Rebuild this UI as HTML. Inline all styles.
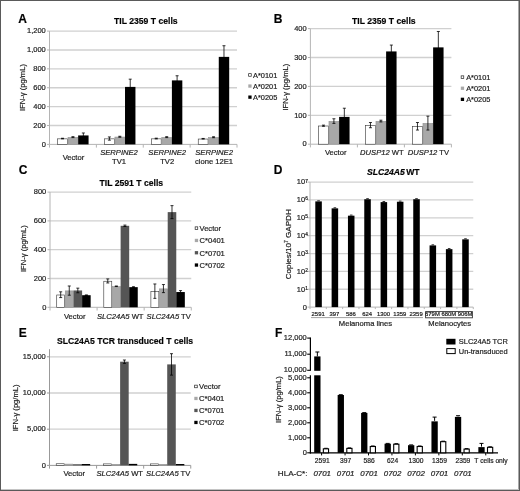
<!DOCTYPE html>
<html><head><meta charset="utf-8"><style>
html,body{margin:0;padding:0;background:#fff;}
#w{position:relative;width:520px;height:491px;overflow:hidden;background:#fff;}
svg{position:absolute;left:0;top:0;will-change:transform;}
text{font-family:"Liberation Sans", sans-serif;stroke:#1e1e1e;stroke-width:0.2px;}
</style></head><body><div id="w">
<svg width="520" height="491" viewBox="0 0 520 491">
<rect x="0" y="0" width="520" height="491" fill="#fff"/>
<text x="18.30" y="23.00" font-size="12" text-anchor="start" fill="#000" font-weight="bold">A</text>
<text x="114.00" y="23.60" font-size="8.65" text-anchor="start" fill="#000" font-weight="bold">TIL 2359 T cells</text>
<line x1="49.50" y1="125.52" x2="237.00" y2="125.52" stroke="#d0d0d0" stroke-width="1.3"/>
<line x1="49.50" y1="106.63" x2="237.00" y2="106.63" stroke="#d0d0d0" stroke-width="1.3"/>
<line x1="49.50" y1="87.75" x2="237.00" y2="87.75" stroke="#d0d0d0" stroke-width="1.3"/>
<line x1="49.50" y1="68.87" x2="237.00" y2="68.87" stroke="#d0d0d0" stroke-width="1.3"/>
<line x1="49.50" y1="49.98" x2="237.00" y2="49.98" stroke="#d0d0d0" stroke-width="1.3"/>
<line x1="49.50" y1="31.10" x2="237.00" y2="31.10" stroke="#d0d0d0" stroke-width="1.3"/>
<line x1="49.50" y1="31.10" x2="49.50" y2="144.40" stroke="#b4b4b4" stroke-width="1"/>
<line x1="49.50" y1="144.40" x2="237.00" y2="144.40" stroke="#b4b4b4" stroke-width="1"/>
<line x1="47.00" y1="144.40" x2="49.50" y2="144.40" stroke="#b4b4b4" stroke-width="1"/>
<text x="45.80" y="146.65" font-size="7.5" text-anchor="end" fill="#1e1e1e">0</text>
<line x1="47.00" y1="125.52" x2="49.50" y2="125.52" stroke="#b4b4b4" stroke-width="1"/>
<text x="45.80" y="127.77" font-size="7.5" text-anchor="end" fill="#1e1e1e">200</text>
<line x1="47.00" y1="106.63" x2="49.50" y2="106.63" stroke="#b4b4b4" stroke-width="1"/>
<text x="45.80" y="108.88" font-size="7.5" text-anchor="end" fill="#1e1e1e">400</text>
<line x1="47.00" y1="87.75" x2="49.50" y2="87.75" stroke="#b4b4b4" stroke-width="1"/>
<text x="45.80" y="90.00" font-size="7.5" text-anchor="end" fill="#1e1e1e">600</text>
<line x1="47.00" y1="68.87" x2="49.50" y2="68.87" stroke="#b4b4b4" stroke-width="1"/>
<text x="45.80" y="71.12" font-size="7.5" text-anchor="end" fill="#1e1e1e">800</text>
<line x1="47.00" y1="49.98" x2="49.50" y2="49.98" stroke="#b4b4b4" stroke-width="1"/>
<text x="45.80" y="52.23" font-size="7.5" text-anchor="end" fill="#1e1e1e">1,000</text>
<line x1="47.00" y1="31.10" x2="49.50" y2="31.10" stroke="#b4b4b4" stroke-width="1"/>
<text x="45.80" y="33.35" font-size="7.5" text-anchor="end" fill="#1e1e1e">1,200</text>
<line x1="49.50" y1="144.40" x2="49.50" y2="147.60" stroke="#b4b4b4" stroke-width="1"/>
<line x1="96.38" y1="144.40" x2="96.38" y2="147.60" stroke="#b4b4b4" stroke-width="1"/>
<line x1="143.25" y1="144.40" x2="143.25" y2="147.60" stroke="#b4b4b4" stroke-width="1"/>
<line x1="190.12" y1="144.40" x2="190.12" y2="147.60" stroke="#b4b4b4" stroke-width="1"/>
<line x1="237.00" y1="144.40" x2="237.00" y2="147.60" stroke="#b4b4b4" stroke-width="1"/>
<rect x="57.61" y="138.85" width="9.82" height="5.55" fill="#fff" stroke="#333" stroke-width="0.6"/>
<line x1="62.52" y1="138.26" x2="62.52" y2="138.83" stroke="#000" stroke-width="0.8"/>
<line x1="61.02" y1="138.26" x2="64.02" y2="138.26" stroke="#000" stroke-width="0.8"/>
<line x1="61.02" y1="138.83" x2="64.02" y2="138.83" stroke="#000" stroke-width="0.8"/>
<rect x="68.03" y="137.43" width="9.82" height="6.97" fill="#a8a8a8" stroke="#909090" stroke-width="0.6"/>
<line x1="72.94" y1="136.66" x2="72.94" y2="137.60" stroke="#000" stroke-width="0.8"/>
<line x1="71.44" y1="136.66" x2="74.44" y2="136.66" stroke="#000" stroke-width="0.8"/>
<line x1="71.44" y1="137.60" x2="74.44" y2="137.60" stroke="#000" stroke-width="0.8"/>
<rect x="78.15" y="135.43" width="10.42" height="8.97" fill="#000"/>
<line x1="83.35" y1="132.98" x2="83.35" y2="137.89" stroke="#000" stroke-width="0.8"/>
<line x1="81.85" y1="132.98" x2="84.85" y2="132.98" stroke="#000" stroke-width="0.8"/>
<line x1="81.85" y1="137.89" x2="84.85" y2="137.89" stroke="#000" stroke-width="0.8"/>
<rect x="104.49" y="138.85" width="9.82" height="5.55" fill="#fff" stroke="#333" stroke-width="0.6"/>
<line x1="109.40" y1="136.94" x2="109.40" y2="140.15" stroke="#000" stroke-width="0.8"/>
<line x1="107.90" y1="136.94" x2="110.90" y2="136.94" stroke="#000" stroke-width="0.8"/>
<line x1="107.90" y1="140.15" x2="110.90" y2="140.15" stroke="#000" stroke-width="0.8"/>
<rect x="114.90" y="137.05" width="9.82" height="7.35" fill="#a8a8a8" stroke="#909090" stroke-width="0.6"/>
<line x1="119.81" y1="136.28" x2="119.81" y2="137.22" stroke="#000" stroke-width="0.8"/>
<line x1="118.31" y1="136.28" x2="121.31" y2="136.28" stroke="#000" stroke-width="0.8"/>
<line x1="118.31" y1="137.22" x2="121.31" y2="137.22" stroke="#000" stroke-width="0.8"/>
<rect x="125.02" y="86.90" width="10.42" height="57.50" fill="#000"/>
<line x1="130.23" y1="79.16" x2="130.23" y2="94.64" stroke="#000" stroke-width="0.8"/>
<line x1="128.73" y1="79.16" x2="131.73" y2="79.16" stroke="#000" stroke-width="0.8"/>
<line x1="128.73" y1="94.64" x2="131.73" y2="94.64" stroke="#000" stroke-width="0.8"/>
<rect x="151.36" y="138.85" width="9.82" height="5.55" fill="#fff" stroke="#333" stroke-width="0.6"/>
<line x1="156.27" y1="138.17" x2="156.27" y2="138.92" stroke="#000" stroke-width="0.8"/>
<line x1="154.77" y1="138.17" x2="157.77" y2="138.17" stroke="#000" stroke-width="0.8"/>
<line x1="154.77" y1="138.92" x2="157.77" y2="138.92" stroke="#000" stroke-width="0.8"/>
<rect x="161.78" y="137.43" width="9.82" height="6.97" fill="#a8a8a8" stroke="#909090" stroke-width="0.6"/>
<line x1="166.69" y1="136.66" x2="166.69" y2="137.60" stroke="#000" stroke-width="0.8"/>
<line x1="165.19" y1="136.66" x2="168.19" y2="136.66" stroke="#000" stroke-width="0.8"/>
<line x1="165.19" y1="137.60" x2="168.19" y2="137.60" stroke="#000" stroke-width="0.8"/>
<rect x="171.90" y="80.39" width="10.42" height="64.01" fill="#000"/>
<line x1="177.10" y1="75.76" x2="177.10" y2="85.01" stroke="#000" stroke-width="0.8"/>
<line x1="175.60" y1="75.76" x2="178.60" y2="75.76" stroke="#000" stroke-width="0.8"/>
<line x1="175.60" y1="85.01" x2="178.60" y2="85.01" stroke="#000" stroke-width="0.8"/>
<rect x="198.24" y="139.04" width="9.82" height="5.37" fill="#fff" stroke="#333" stroke-width="0.6"/>
<line x1="203.15" y1="138.45" x2="203.15" y2="139.02" stroke="#000" stroke-width="0.8"/>
<line x1="201.65" y1="138.45" x2="204.65" y2="138.45" stroke="#000" stroke-width="0.8"/>
<line x1="201.65" y1="139.02" x2="204.65" y2="139.02" stroke="#000" stroke-width="0.8"/>
<rect x="208.65" y="137.52" width="9.82" height="6.88" fill="#a8a8a8" stroke="#909090" stroke-width="0.6"/>
<line x1="213.56" y1="136.75" x2="213.56" y2="137.70" stroke="#000" stroke-width="0.8"/>
<line x1="212.06" y1="136.75" x2="215.06" y2="136.75" stroke="#000" stroke-width="0.8"/>
<line x1="212.06" y1="137.70" x2="215.06" y2="137.70" stroke="#000" stroke-width="0.8"/>
<rect x="218.77" y="56.88" width="10.42" height="87.52" fill="#000"/>
<line x1="223.98" y1="45.73" x2="223.98" y2="68.02" stroke="#000" stroke-width="0.8"/>
<line x1="222.48" y1="45.73" x2="225.48" y2="45.73" stroke="#000" stroke-width="0.8"/>
<line x1="222.48" y1="68.02" x2="225.48" y2="68.02" stroke="#000" stroke-width="0.8"/>
<text x="25.30" y="87.50" font-size="7.6" text-anchor="middle" fill="#1e1e1e" transform="rotate(-90 25.30 87.50)">IFN-&#947; (pg/mL)</text>
<text x="73.44" y="159.60" font-size="7.62" text-anchor="middle" fill="#1e1e1e">Vector</text>
<text x="119.01" y="155.00" font-size="7.62" text-anchor="middle" fill="#1e1e1e" font-style="italic">SERPINE2</text>
<text x="119.01" y="164.00" font-size="7.62" text-anchor="middle" fill="#1e1e1e">TV1</text>
<text x="167.19" y="155.00" font-size="7.62" text-anchor="middle" fill="#1e1e1e" font-style="italic">SERPINE2</text>
<text x="167.19" y="164.00" font-size="7.62" text-anchor="middle" fill="#1e1e1e">TV2</text>
<text x="214.06" y="155.00" font-size="7.62" text-anchor="middle" fill="#1e1e1e" font-style="italic">SERPINE2</text>
<text x="214.06" y="164.00" font-size="7.62" text-anchor="middle" fill="#1e1e1e">clone 12E1</text>
<rect x="248.65" y="73.65" width="2.60" height="2.60" fill="#fff" stroke="#222" stroke-width="0.7"/>
<text x="253.00" y="77.70" font-size="7.4" text-anchor="start" fill="#1e1e1e">A*0101</text>
<rect x="248.30" y="84.40" width="3.30" height="3.30" fill="#a8a8a8"/>
<text x="253.00" y="88.80" font-size="7.4" text-anchor="start" fill="#1e1e1e">A*0201</text>
<rect x="248.30" y="95.50" width="3.30" height="3.30" fill="#000"/>
<text x="253.00" y="99.90" font-size="7.4" text-anchor="start" fill="#1e1e1e">A*0205</text>
<text x="273.80" y="23.00" font-size="12" text-anchor="start" fill="#000" font-weight="bold">B</text>
<text x="352.00" y="23.60" font-size="8.65" text-anchor="start" fill="#000" font-weight="bold">TIL 2359 T cells</text>
<line x1="310.40" y1="115.30" x2="451.40" y2="115.30" stroke="#d0d0d0" stroke-width="1.3"/>
<line x1="310.40" y1="86.40" x2="451.40" y2="86.40" stroke="#d0d0d0" stroke-width="1.3"/>
<line x1="310.40" y1="57.50" x2="451.40" y2="57.50" stroke="#d0d0d0" stroke-width="1.3"/>
<line x1="310.40" y1="28.60" x2="451.40" y2="28.60" stroke="#d0d0d0" stroke-width="1.3"/>
<line x1="310.40" y1="28.60" x2="310.40" y2="144.20" stroke="#b4b4b4" stroke-width="1"/>
<line x1="310.40" y1="144.20" x2="451.40" y2="144.20" stroke="#b4b4b4" stroke-width="1"/>
<line x1="307.90" y1="144.20" x2="310.40" y2="144.20" stroke="#b4b4b4" stroke-width="1"/>
<text x="306.70" y="146.45" font-size="7.5" text-anchor="end" fill="#1e1e1e">0</text>
<line x1="307.90" y1="115.30" x2="310.40" y2="115.30" stroke="#b4b4b4" stroke-width="1"/>
<text x="306.70" y="117.55" font-size="7.5" text-anchor="end" fill="#1e1e1e">100</text>
<line x1="307.90" y1="86.40" x2="310.40" y2="86.40" stroke="#b4b4b4" stroke-width="1"/>
<text x="306.70" y="88.65" font-size="7.5" text-anchor="end" fill="#1e1e1e">200</text>
<line x1="307.90" y1="57.50" x2="310.40" y2="57.50" stroke="#b4b4b4" stroke-width="1"/>
<text x="306.70" y="59.75" font-size="7.5" text-anchor="end" fill="#1e1e1e">300</text>
<line x1="307.90" y1="28.60" x2="310.40" y2="28.60" stroke="#b4b4b4" stroke-width="1"/>
<text x="306.70" y="30.85" font-size="7.5" text-anchor="end" fill="#1e1e1e">400</text>
<line x1="310.40" y1="144.20" x2="310.40" y2="147.40" stroke="#b4b4b4" stroke-width="1"/>
<line x1="357.40" y1="144.20" x2="357.40" y2="147.40" stroke="#b4b4b4" stroke-width="1"/>
<line x1="404.40" y1="144.20" x2="404.40" y2="147.40" stroke="#b4b4b4" stroke-width="1"/>
<line x1="451.40" y1="144.20" x2="451.40" y2="147.40" stroke="#b4b4b4" stroke-width="1"/>
<rect x="318.53" y="126.00" width="9.84" height="18.20" fill="#fff" stroke="#333" stroke-width="0.6"/>
<line x1="323.46" y1="125.13" x2="323.46" y2="126.28" stroke="#000" stroke-width="0.8"/>
<line x1="321.96" y1="125.13" x2="324.96" y2="125.13" stroke="#000" stroke-width="0.8"/>
<line x1="321.96" y1="126.28" x2="324.96" y2="126.28" stroke="#000" stroke-width="0.8"/>
<rect x="328.98" y="121.38" width="9.84" height="22.82" fill="#a8a8a8" stroke="#909090" stroke-width="0.6"/>
<line x1="333.90" y1="118.77" x2="333.90" y2="123.39" stroke="#000" stroke-width="0.8"/>
<line x1="332.40" y1="118.77" x2="335.40" y2="118.77" stroke="#000" stroke-width="0.8"/>
<line x1="332.40" y1="123.39" x2="335.40" y2="123.39" stroke="#000" stroke-width="0.8"/>
<rect x="339.12" y="116.89" width="10.44" height="27.31" fill="#000"/>
<line x1="344.34" y1="108.22" x2="344.34" y2="125.56" stroke="#000" stroke-width="0.8"/>
<line x1="342.84" y1="108.22" x2="345.84" y2="108.22" stroke="#000" stroke-width="0.8"/>
<line x1="342.84" y1="125.56" x2="345.84" y2="125.56" stroke="#000" stroke-width="0.8"/>
<rect x="365.53" y="125.43" width="9.84" height="18.77" fill="#fff" stroke="#333" stroke-width="0.6"/>
<line x1="370.46" y1="122.52" x2="370.46" y2="127.73" stroke="#000" stroke-width="0.8"/>
<line x1="368.96" y1="122.52" x2="371.96" y2="122.52" stroke="#000" stroke-width="0.8"/>
<line x1="368.96" y1="127.73" x2="371.96" y2="127.73" stroke="#000" stroke-width="0.8"/>
<rect x="375.98" y="121.38" width="9.84" height="22.82" fill="#a8a8a8" stroke="#909090" stroke-width="0.6"/>
<line x1="380.90" y1="120.21" x2="380.90" y2="121.95" stroke="#000" stroke-width="0.8"/>
<line x1="379.40" y1="120.21" x2="382.40" y2="120.21" stroke="#000" stroke-width="0.8"/>
<line x1="379.40" y1="121.95" x2="382.40" y2="121.95" stroke="#000" stroke-width="0.8"/>
<rect x="386.12" y="51.43" width="10.44" height="92.77" fill="#000"/>
<line x1="391.34" y1="45.07" x2="391.34" y2="57.79" stroke="#000" stroke-width="0.8"/>
<line x1="389.84" y1="45.07" x2="392.84" y2="45.07" stroke="#000" stroke-width="0.8"/>
<line x1="389.84" y1="57.79" x2="392.84" y2="57.79" stroke="#000" stroke-width="0.8"/>
<rect x="412.53" y="126.58" width="9.84" height="17.62" fill="#fff" stroke="#333" stroke-width="0.6"/>
<line x1="417.46" y1="122.52" x2="417.46" y2="130.04" stroke="#000" stroke-width="0.8"/>
<line x1="415.96" y1="122.52" x2="418.96" y2="122.52" stroke="#000" stroke-width="0.8"/>
<line x1="415.96" y1="130.04" x2="418.96" y2="130.04" stroke="#000" stroke-width="0.8"/>
<rect x="422.98" y="123.40" width="9.84" height="20.80" fill="#a8a8a8" stroke="#909090" stroke-width="0.6"/>
<line x1="427.90" y1="116.17" x2="427.90" y2="130.04" stroke="#000" stroke-width="0.8"/>
<line x1="426.40" y1="116.17" x2="429.40" y2="116.17" stroke="#000" stroke-width="0.8"/>
<line x1="426.40" y1="130.04" x2="429.40" y2="130.04" stroke="#000" stroke-width="0.8"/>
<rect x="433.12" y="47.38" width="10.44" height="96.81" fill="#000"/>
<line x1="438.34" y1="31.49" x2="438.34" y2="63.28" stroke="#000" stroke-width="0.8"/>
<line x1="436.84" y1="31.49" x2="439.84" y2="31.49" stroke="#000" stroke-width="0.8"/>
<line x1="436.84" y1="63.28" x2="439.84" y2="63.28" stroke="#000" stroke-width="0.8"/>
<text x="288.00" y="87.20" font-size="7.6" text-anchor="middle" fill="#1e1e1e" transform="rotate(-90 288.00 87.20)">IFN-&#947; (pg/mL)</text>
<text x="335.70" y="154.60" font-size="7.62" text-anchor="middle" fill="#1e1e1e">Vector</text>
<text x="381.90" y="154.60" font-size="7.62" text-anchor="middle" fill="#1e1e1e"><tspan font-style="italic">DUSP12</tspan> WT</text>
<text x="428.40" y="154.60" font-size="7.62" text-anchor="middle" fill="#1e1e1e"><tspan font-style="italic">DUSP12</tspan> TV</text>
<rect x="461.15" y="75.85" width="2.60" height="2.60" fill="#fff" stroke="#222" stroke-width="0.7"/>
<text x="466.20" y="79.90" font-size="7.4" text-anchor="start" fill="#1e1e1e">A*0101</text>
<rect x="460.80" y="86.60" width="3.30" height="3.30" fill="#a8a8a8"/>
<text x="466.20" y="91.00" font-size="7.4" text-anchor="start" fill="#1e1e1e">A*0201</text>
<rect x="460.80" y="97.70" width="3.30" height="3.30" fill="#000"/>
<text x="466.20" y="102.10" font-size="7.4" text-anchor="start" fill="#1e1e1e">A*0205</text>
<text x="18.80" y="174.20" font-size="12" text-anchor="start" fill="#000" font-weight="bold">C</text>
<text x="99.50" y="185.60" font-size="8.65" text-anchor="start" fill="#000" font-weight="bold">TIL 2591 T cells</text>
<line x1="50.00" y1="278.50" x2="191.25" y2="278.50" stroke="#d0d0d0" stroke-width="1.3"/>
<line x1="50.00" y1="249.70" x2="191.25" y2="249.70" stroke="#d0d0d0" stroke-width="1.3"/>
<line x1="50.00" y1="220.90" x2="191.25" y2="220.90" stroke="#d0d0d0" stroke-width="1.3"/>
<line x1="50.00" y1="192.10" x2="191.25" y2="192.10" stroke="#d0d0d0" stroke-width="1.3"/>
<line x1="50.00" y1="192.10" x2="50.00" y2="307.30" stroke="#b4b4b4" stroke-width="1"/>
<line x1="50.00" y1="307.30" x2="191.25" y2="307.30" stroke="#b4b4b4" stroke-width="1"/>
<line x1="47.50" y1="307.30" x2="50.00" y2="307.30" stroke="#b4b4b4" stroke-width="1"/>
<text x="46.30" y="309.55" font-size="7.5" text-anchor="end" fill="#1e1e1e">0</text>
<line x1="47.50" y1="278.50" x2="50.00" y2="278.50" stroke="#b4b4b4" stroke-width="1"/>
<text x="46.30" y="280.75" font-size="7.5" text-anchor="end" fill="#1e1e1e">200</text>
<line x1="47.50" y1="249.70" x2="50.00" y2="249.70" stroke="#b4b4b4" stroke-width="1"/>
<text x="46.30" y="251.95" font-size="7.5" text-anchor="end" fill="#1e1e1e">400</text>
<line x1="47.50" y1="220.90" x2="50.00" y2="220.90" stroke="#b4b4b4" stroke-width="1"/>
<text x="46.30" y="223.15" font-size="7.5" text-anchor="end" fill="#1e1e1e">600</text>
<line x1="47.50" y1="192.10" x2="50.00" y2="192.10" stroke="#b4b4b4" stroke-width="1"/>
<text x="46.30" y="194.35" font-size="7.5" text-anchor="end" fill="#1e1e1e">800</text>
<line x1="50.00" y1="307.30" x2="50.00" y2="310.50" stroke="#b4b4b4" stroke-width="1"/>
<line x1="97.08" y1="307.30" x2="97.08" y2="310.50" stroke="#b4b4b4" stroke-width="1"/>
<line x1="144.17" y1="307.30" x2="144.17" y2="310.50" stroke="#b4b4b4" stroke-width="1"/>
<line x1="191.25" y1="307.30" x2="191.25" y2="310.50" stroke="#b4b4b4" stroke-width="1"/>
<rect x="56.72" y="295.00" width="7.96" height="12.30" fill="#fff" stroke="#333" stroke-width="0.6"/>
<line x1="60.70" y1="291.82" x2="60.70" y2="297.58" stroke="#000" stroke-width="0.8"/>
<line x1="59.20" y1="291.82" x2="62.20" y2="291.82" stroke="#000" stroke-width="0.8"/>
<line x1="59.20" y1="297.58" x2="62.20" y2="297.58" stroke="#000" stroke-width="0.8"/>
<rect x="65.28" y="290.90" width="7.96" height="16.40" fill="#a8a8a8" stroke="#909090" stroke-width="0.6"/>
<line x1="69.26" y1="285.99" x2="69.26" y2="295.20" stroke="#000" stroke-width="0.8"/>
<line x1="67.76" y1="285.99" x2="70.76" y2="285.99" stroke="#000" stroke-width="0.8"/>
<line x1="67.76" y1="295.20" x2="70.76" y2="295.20" stroke="#000" stroke-width="0.8"/>
<rect x="73.54" y="290.45" width="8.56" height="16.85" fill="#555555"/>
<line x1="77.82" y1="288.15" x2="77.82" y2="292.76" stroke="#000" stroke-width="0.8"/>
<line x1="76.32" y1="288.15" x2="79.32" y2="288.15" stroke="#000" stroke-width="0.8"/>
<line x1="76.32" y1="292.76" x2="79.32" y2="292.76" stroke="#000" stroke-width="0.8"/>
<rect x="82.10" y="295.20" width="8.56" height="12.10" fill="#000"/>
<line x1="86.38" y1="294.92" x2="86.38" y2="295.49" stroke="#000" stroke-width="0.8"/>
<line x1="84.88" y1="294.92" x2="87.88" y2="294.92" stroke="#000" stroke-width="0.8"/>
<line x1="84.88" y1="295.49" x2="87.88" y2="295.49" stroke="#000" stroke-width="0.8"/>
<rect x="103.80" y="281.25" width="7.96" height="26.05" fill="#fff" stroke="#333" stroke-width="0.6"/>
<line x1="107.78" y1="278.93" x2="107.78" y2="282.96" stroke="#000" stroke-width="0.8"/>
<line x1="106.28" y1="278.93" x2="109.28" y2="278.93" stroke="#000" stroke-width="0.8"/>
<line x1="106.28" y1="282.96" x2="109.28" y2="282.96" stroke="#000" stroke-width="0.8"/>
<rect x="112.36" y="286.58" width="7.96" height="20.72" fill="#a8a8a8" stroke="#909090" stroke-width="0.6"/>
<line x1="116.34" y1="285.99" x2="116.34" y2="286.56" stroke="#000" stroke-width="0.8"/>
<line x1="114.84" y1="285.99" x2="117.84" y2="285.99" stroke="#000" stroke-width="0.8"/>
<line x1="114.84" y1="286.56" x2="117.84" y2="286.56" stroke="#000" stroke-width="0.8"/>
<rect x="120.63" y="225.80" width="8.56" height="81.50" fill="#555555"/>
<line x1="124.91" y1="225.08" x2="124.91" y2="226.52" stroke="#000" stroke-width="0.8"/>
<line x1="123.41" y1="225.08" x2="126.41" y2="225.08" stroke="#000" stroke-width="0.8"/>
<line x1="123.41" y1="226.52" x2="126.41" y2="226.52" stroke="#000" stroke-width="0.8"/>
<rect x="129.19" y="287.14" width="8.56" height="20.16" fill="#000"/>
<line x1="133.47" y1="286.71" x2="133.47" y2="287.57" stroke="#000" stroke-width="0.8"/>
<line x1="131.97" y1="286.71" x2="134.97" y2="286.71" stroke="#000" stroke-width="0.8"/>
<line x1="131.97" y1="287.57" x2="134.97" y2="287.57" stroke="#000" stroke-width="0.8"/>
<rect x="150.89" y="291.47" width="7.96" height="15.83" fill="#fff" stroke="#333" stroke-width="0.6"/>
<line x1="154.87" y1="283.97" x2="154.87" y2="298.37" stroke="#000" stroke-width="0.8"/>
<line x1="153.37" y1="283.97" x2="156.37" y2="283.97" stroke="#000" stroke-width="0.8"/>
<line x1="153.37" y1="298.37" x2="156.37" y2="298.37" stroke="#000" stroke-width="0.8"/>
<rect x="159.45" y="288.88" width="7.96" height="18.42" fill="#a8a8a8" stroke="#909090" stroke-width="0.6"/>
<line x1="163.43" y1="284.55" x2="163.43" y2="292.61" stroke="#000" stroke-width="0.8"/>
<line x1="161.93" y1="284.55" x2="164.93" y2="284.55" stroke="#000" stroke-width="0.8"/>
<line x1="161.93" y1="292.61" x2="164.93" y2="292.61" stroke="#000" stroke-width="0.8"/>
<rect x="167.71" y="212.12" width="8.56" height="95.18" fill="#555555"/>
<line x1="171.99" y1="205.64" x2="171.99" y2="218.60" stroke="#000" stroke-width="0.8"/>
<line x1="170.49" y1="205.64" x2="173.49" y2="205.64" stroke="#000" stroke-width="0.8"/>
<line x1="170.49" y1="218.60" x2="173.49" y2="218.60" stroke="#000" stroke-width="0.8"/>
<rect x="176.27" y="292.04" width="8.56" height="15.26" fill="#000"/>
<line x1="180.55" y1="290.60" x2="180.55" y2="293.48" stroke="#000" stroke-width="0.8"/>
<line x1="179.05" y1="290.60" x2="182.05" y2="290.60" stroke="#000" stroke-width="0.8"/>
<line x1="179.05" y1="293.48" x2="182.05" y2="293.48" stroke="#000" stroke-width="0.8"/>
<text x="26.20" y="248.60" font-size="7.6" text-anchor="middle" fill="#1e1e1e" transform="rotate(-90 26.20 248.60)">IFN-&#947; (pg/mL)</text>
<text x="74.74" y="318.70" font-size="7.62" text-anchor="middle" fill="#1e1e1e">Vector</text>
<text x="120.22" y="318.70" font-size="7.62" text-anchor="middle" fill="#1e1e1e"><tspan font-style="italic">SLC24A5</tspan> WT</text>
<text x="168.71" y="318.70" font-size="7.62" text-anchor="middle" fill="#1e1e1e"><tspan font-style="italic">SLC24A5</tspan> TV</text>
<rect x="195.15" y="226.85" width="2.60" height="2.60" fill="#fff" stroke="#222" stroke-width="0.7"/>
<text x="199.50" y="230.90" font-size="7.6" text-anchor="start" fill="#1e1e1e">Vector</text>
<rect x="194.80" y="238.80" width="3.30" height="3.30" fill="#a8a8a8"/>
<text x="199.50" y="243.20" font-size="7.6" text-anchor="start" fill="#1e1e1e">C*0401</text>
<rect x="194.80" y="251.10" width="3.30" height="3.30" fill="#555555"/>
<text x="199.50" y="255.50" font-size="7.6" text-anchor="start" fill="#1e1e1e">C*0701</text>
<rect x="194.80" y="263.40" width="3.30" height="3.30" fill="#000"/>
<text x="199.50" y="267.80" font-size="7.6" text-anchor="start" fill="#1e1e1e">C*0702</text>
<text x="273.80" y="174.20" font-size="12" text-anchor="start" fill="#000" font-weight="bold">D</text>
<text x="367.00" y="175.00" font-size="8.65" text-anchor="start" fill="#000" font-weight="bold"><tspan font-style="italic">SLC24A5</tspan><tspan dx="1.3">WT</tspan></text>
<line x1="310.00" y1="289.24" x2="473.25" y2="289.24" stroke="#d0d0d0" stroke-width="1.3"/>
<line x1="310.00" y1="271.39" x2="473.25" y2="271.39" stroke="#d0d0d0" stroke-width="1.3"/>
<line x1="310.00" y1="253.53" x2="473.25" y2="253.53" stroke="#d0d0d0" stroke-width="1.3"/>
<line x1="310.00" y1="235.67" x2="473.25" y2="235.67" stroke="#d0d0d0" stroke-width="1.3"/>
<line x1="310.00" y1="217.81" x2="473.25" y2="217.81" stroke="#d0d0d0" stroke-width="1.3"/>
<line x1="310.00" y1="199.96" x2="473.25" y2="199.96" stroke="#d0d0d0" stroke-width="1.3"/>
<line x1="310.00" y1="182.10" x2="473.25" y2="182.10" stroke="#d0d0d0" stroke-width="1.3"/>
<line x1="310.00" y1="182.10" x2="310.00" y2="307.10" stroke="#b4b4b4" stroke-width="1"/>
<line x1="310.00" y1="307.10" x2="473.25" y2="307.10" stroke="#b4b4b4" stroke-width="1"/>
<line x1="307.50" y1="307.10" x2="310.00" y2="307.10" stroke="#b4b4b4" stroke-width="1"/>
<text x="307.00" y="309.60" font-size="7.5" text-anchor="end" fill="#1e1e1e">0</text>
<line x1="307.50" y1="289.24" x2="310.00" y2="289.24" stroke="#b4b4b4" stroke-width="1"/>
<text x="305.20" y="291.54" font-size="7.5" text-anchor="end" fill="#1e1e1e">10</text>
<text x="305.20" y="289.74" font-size="4.8" text-anchor="start" fill="#1e1e1e">1</text>
<line x1="307.50" y1="271.39" x2="310.00" y2="271.39" stroke="#b4b4b4" stroke-width="1"/>
<text x="305.20" y="273.69" font-size="7.5" text-anchor="end" fill="#1e1e1e">10</text>
<text x="305.20" y="271.89" font-size="4.8" text-anchor="start" fill="#1e1e1e">2</text>
<line x1="307.50" y1="253.53" x2="310.00" y2="253.53" stroke="#b4b4b4" stroke-width="1"/>
<text x="305.20" y="255.83" font-size="7.5" text-anchor="end" fill="#1e1e1e">10</text>
<text x="305.20" y="254.03" font-size="4.8" text-anchor="start" fill="#1e1e1e">3</text>
<line x1="307.50" y1="235.67" x2="310.00" y2="235.67" stroke="#b4b4b4" stroke-width="1"/>
<text x="305.20" y="237.97" font-size="7.5" text-anchor="end" fill="#1e1e1e">10</text>
<text x="305.20" y="236.17" font-size="4.8" text-anchor="start" fill="#1e1e1e">4</text>
<line x1="307.50" y1="217.81" x2="310.00" y2="217.81" stroke="#b4b4b4" stroke-width="1"/>
<text x="305.20" y="220.11" font-size="7.5" text-anchor="end" fill="#1e1e1e">10</text>
<text x="305.20" y="218.31" font-size="4.8" text-anchor="start" fill="#1e1e1e">5</text>
<line x1="307.50" y1="199.96" x2="310.00" y2="199.96" stroke="#b4b4b4" stroke-width="1"/>
<text x="305.20" y="202.26" font-size="7.5" text-anchor="end" fill="#1e1e1e">10</text>
<text x="305.20" y="200.46" font-size="4.8" text-anchor="start" fill="#1e1e1e">6</text>
<line x1="307.50" y1="182.10" x2="310.00" y2="182.10" stroke="#b4b4b4" stroke-width="1"/>
<text x="305.20" y="184.40" font-size="7.5" text-anchor="end" fill="#1e1e1e">10</text>
<text x="305.20" y="182.60" font-size="4.8" text-anchor="start" fill="#1e1e1e">7</text>
<rect x="315.30" y="201.39" width="6.53" height="105.71" fill="#000"/>
<line x1="317.26" y1="200.79" x2="319.86" y2="200.79" stroke="#000" stroke-width="0.8"/>
<rect x="331.62" y="208.35" width="6.53" height="98.75" fill="#000"/>
<line x1="333.59" y1="207.75" x2="336.19" y2="207.75" stroke="#000" stroke-width="0.8"/>
<rect x="347.95" y="215.67" width="6.53" height="91.43" fill="#000"/>
<line x1="349.91" y1="215.07" x2="352.51" y2="215.07" stroke="#000" stroke-width="0.8"/>
<rect x="364.27" y="199.24" width="6.53" height="107.86" fill="#000"/>
<line x1="366.24" y1="198.64" x2="368.84" y2="198.64" stroke="#000" stroke-width="0.8"/>
<rect x="380.60" y="202.10" width="6.53" height="105.00" fill="#000"/>
<line x1="382.56" y1="201.50" x2="385.16" y2="201.50" stroke="#000" stroke-width="0.8"/>
<rect x="396.92" y="201.74" width="6.53" height="105.36" fill="#000"/>
<line x1="398.89" y1="201.14" x2="401.49" y2="201.14" stroke="#000" stroke-width="0.8"/>
<rect x="413.25" y="199.24" width="6.53" height="107.86" fill="#000"/>
<line x1="415.21" y1="198.64" x2="417.81" y2="198.64" stroke="#000" stroke-width="0.8"/>
<rect x="429.57" y="245.40" width="6.53" height="61.70" fill="#000"/>
<line x1="431.54" y1="244.80" x2="434.14" y2="244.80" stroke="#000" stroke-width="0.8"/>
<rect x="445.90" y="249.15" width="6.53" height="57.95" fill="#000"/>
<line x1="447.86" y1="248.55" x2="450.46" y2="248.55" stroke="#000" stroke-width="0.8"/>
<rect x="462.22" y="239.33" width="6.53" height="67.77" fill="#000"/>
<line x1="464.19" y1="238.73" x2="466.79" y2="238.73" stroke="#000" stroke-width="0.8"/>
<line x1="310.00" y1="307.10" x2="310.00" y2="309.10" stroke="#b4b4b4" stroke-width="1"/>
<line x1="326.32" y1="307.10" x2="326.32" y2="309.10" stroke="#b4b4b4" stroke-width="1"/>
<line x1="342.65" y1="307.10" x2="342.65" y2="309.10" stroke="#b4b4b4" stroke-width="1"/>
<line x1="358.98" y1="307.10" x2="358.98" y2="309.10" stroke="#b4b4b4" stroke-width="1"/>
<line x1="375.30" y1="307.10" x2="375.30" y2="309.10" stroke="#b4b4b4" stroke-width="1"/>
<line x1="391.62" y1="307.10" x2="391.62" y2="309.10" stroke="#b4b4b4" stroke-width="1"/>
<line x1="407.95" y1="307.10" x2="407.95" y2="309.10" stroke="#b4b4b4" stroke-width="1"/>
<line x1="424.27" y1="307.10" x2="424.27" y2="309.10" stroke="#b4b4b4" stroke-width="1"/>
<line x1="440.60" y1="307.10" x2="440.60" y2="309.10" stroke="#b4b4b4" stroke-width="1"/>
<line x1="456.92" y1="307.10" x2="456.92" y2="309.10" stroke="#b4b4b4" stroke-width="1"/>
<line x1="473.25" y1="307.10" x2="473.25" y2="309.10" stroke="#b4b4b4" stroke-width="1"/>
<text x="318.16" y="316.00" font-size="5.9" text-anchor="middle" fill="#1a1a1a">2591</text>
<text x="334.49" y="316.00" font-size="5.9" text-anchor="middle" fill="#1a1a1a">397</text>
<text x="350.81" y="316.00" font-size="5.9" text-anchor="middle" fill="#1a1a1a">586</text>
<text x="367.14" y="316.00" font-size="5.9" text-anchor="middle" fill="#1a1a1a">624</text>
<text x="383.46" y="316.00" font-size="5.9" text-anchor="middle" fill="#1a1a1a">1300</text>
<text x="399.79" y="316.00" font-size="5.9" text-anchor="middle" fill="#1a1a1a">1359</text>
<text x="416.11" y="316.00" font-size="5.9" text-anchor="middle" fill="#1a1a1a">2359</text>
<text x="432.44" y="316.00" font-size="5.9" text-anchor="middle" fill="#1a1a1a">679M</text>
<text x="448.76" y="316.00" font-size="5.9" text-anchor="middle" fill="#1a1a1a">680M</text>
<text x="465.09" y="316.00" font-size="5.9" text-anchor="middle" fill="#1a1a1a">906M</text>
<line x1="311.00" y1="317.60" x2="423.00" y2="317.60" stroke="#888" stroke-width="0.8"/>
<rect x="425.60" y="311.60" width="46.80" height="6.20" fill="none" stroke="#333" stroke-width="0.9"/>
<text x="365.50" y="325.90" font-size="7.62" text-anchor="middle" fill="#1e1e1e">Melanoma lines</text>
<text x="449.70" y="325.90" font-size="7.62" text-anchor="middle" fill="#1e1e1e">Melanocytes</text>
<text x="291.00" y="244.30" font-size="8.05" text-anchor="middle" fill="#1e1e1e" transform="rotate(-90 291.00 244.30)">Copies/10<tspan font-size="5.2" dy="-2.9">7</tspan><tspan dy="2.9"> GAPDH</tspan></text>
<text x="18.80" y="337.00" font-size="12" text-anchor="start" fill="#000" font-weight="bold">E</text>
<text x="57.00" y="344.00" font-size="8.65" text-anchor="start" fill="#000" font-weight="bold">SLC24A5 TCR transduced T cells</text>
<line x1="49.50" y1="429.20" x2="190.75" y2="429.20" stroke="#d0d0d0" stroke-width="1.3"/>
<line x1="49.50" y1="393.00" x2="190.75" y2="393.00" stroke="#d0d0d0" stroke-width="1.3"/>
<line x1="49.50" y1="356.80" x2="190.75" y2="356.80" stroke="#d0d0d0" stroke-width="1.3"/>
<line x1="49.50" y1="349.20" x2="49.50" y2="465.40" stroke="#999" stroke-width="1"/>
<line x1="49.50" y1="465.40" x2="190.75" y2="465.40" stroke="#999" stroke-width="1"/>
<line x1="47.00" y1="465.40" x2="49.50" y2="465.40" stroke="#999" stroke-width="1"/>
<text x="45.80" y="467.65" font-size="7.5" text-anchor="end" fill="#1e1e1e">0</text>
<line x1="47.00" y1="429.20" x2="49.50" y2="429.20" stroke="#999" stroke-width="1"/>
<text x="45.80" y="431.45" font-size="7.5" text-anchor="end" fill="#1e1e1e">5,000</text>
<line x1="47.00" y1="393.00" x2="49.50" y2="393.00" stroke="#999" stroke-width="1"/>
<text x="45.80" y="395.25" font-size="7.5" text-anchor="end" fill="#1e1e1e">10,000</text>
<line x1="47.00" y1="356.80" x2="49.50" y2="356.80" stroke="#999" stroke-width="1"/>
<text x="45.80" y="359.05" font-size="7.5" text-anchor="end" fill="#1e1e1e">15,000</text>
<line x1="49.50" y1="465.40" x2="49.50" y2="468.60" stroke="#999" stroke-width="1"/>
<line x1="96.58" y1="465.40" x2="96.58" y2="468.60" stroke="#999" stroke-width="1"/>
<line x1="143.67" y1="465.40" x2="143.67" y2="468.60" stroke="#999" stroke-width="1"/>
<line x1="190.75" y1="465.40" x2="190.75" y2="468.60" stroke="#999" stroke-width="1"/>
<rect x="56.22" y="463.75" width="7.96" height="1.65" fill="#fff" stroke="#333" stroke-width="0.6"/>
<rect x="64.78" y="464.11" width="7.96" height="1.29" fill="#a8a8a8" stroke="#909090" stroke-width="0.6"/>
<rect x="73.04" y="464.24" width="8.56" height="1.16" fill="#555555"/>
<rect x="81.60" y="464.02" width="8.56" height="1.38" fill="#000"/>
<rect x="103.30" y="463.89" width="7.96" height="1.51" fill="#fff" stroke="#333" stroke-width="0.6"/>
<rect x="111.86" y="464.32" width="7.96" height="1.08" fill="#a8a8a8" stroke="#909090" stroke-width="0.6"/>
<rect x="120.13" y="361.70" width="8.56" height="103.70" fill="#555555"/>
<line x1="124.41" y1="360.00" x2="124.41" y2="363.40" stroke="#000" stroke-width="0.8"/>
<line x1="122.91" y1="360.00" x2="125.91" y2="360.00" stroke="#000" stroke-width="0.8"/>
<line x1="122.91" y1="363.40" x2="125.91" y2="363.40" stroke="#000" stroke-width="0.8"/>
<rect x="128.69" y="463.88" width="8.56" height="1.52" fill="#000"/>
<rect x="150.39" y="463.89" width="7.96" height="1.51" fill="#fff" stroke="#333" stroke-width="0.6"/>
<rect x="158.95" y="464.32" width="7.96" height="1.08" fill="#a8a8a8" stroke="#909090" stroke-width="0.6"/>
<rect x="167.21" y="364.40" width="8.56" height="101.00" fill="#555555"/>
<line x1="171.49" y1="353.69" x2="171.49" y2="375.12" stroke="#000" stroke-width="0.8"/>
<line x1="169.99" y1="353.69" x2="172.99" y2="353.69" stroke="#000" stroke-width="0.8"/>
<line x1="169.99" y1="375.12" x2="172.99" y2="375.12" stroke="#000" stroke-width="0.8"/>
<rect x="175.77" y="464.02" width="8.56" height="1.38" fill="#000"/>
<text x="17.90" y="407.90" font-size="7.6" text-anchor="middle" fill="#1e1e1e" transform="rotate(-90 17.90 407.90)">IFN-&#947; (pg/mL)</text>
<text x="74.24" y="476.30" font-size="7.62" text-anchor="middle" fill="#1e1e1e">Vector</text>
<text x="119.72" y="476.30" font-size="7.62" text-anchor="middle" fill="#1e1e1e"><tspan font-style="italic">SLC24A5</tspan> WT</text>
<text x="168.21" y="476.30" font-size="7.62" text-anchor="middle" fill="#1e1e1e"><tspan font-style="italic">SLC24A5</tspan> TV</text>
<rect x="194.65" y="385.15" width="2.60" height="2.60" fill="#fff" stroke="#222" stroke-width="0.7"/>
<text x="199.00" y="389.20" font-size="7.6" text-anchor="start" fill="#1e1e1e">Vector</text>
<rect x="194.30" y="396.80" width="3.30" height="3.30" fill="#a8a8a8"/>
<text x="199.00" y="401.20" font-size="7.6" text-anchor="start" fill="#1e1e1e">C*0401</text>
<rect x="194.30" y="408.80" width="3.30" height="3.30" fill="#555555"/>
<text x="199.00" y="413.20" font-size="7.6" text-anchor="start" fill="#1e1e1e">C*0701</text>
<rect x="194.30" y="420.80" width="3.30" height="3.30" fill="#000"/>
<text x="199.00" y="425.20" font-size="7.6" text-anchor="start" fill="#1e1e1e">C*0702</text>
<text x="275.00" y="336.60" font-size="12" text-anchor="start" fill="#000" font-weight="bold">F</text>
<line x1="310.40" y1="337.60" x2="310.40" y2="370.80" stroke="#000" stroke-width="1.2"/>
<line x1="310.40" y1="375.30" x2="310.40" y2="453.40" stroke="#000" stroke-width="1.2"/>
<line x1="309.80" y1="452.80" x2="498.00" y2="452.80" stroke="#000" stroke-width="1.2"/>
<line x1="307.20" y1="370.30" x2="310.40" y2="370.30" stroke="#000" stroke-width="1.1"/>
<text x="306.80" y="371.90" font-size="7.5" text-anchor="end" fill="#1e1e1e">10,000</text>
<line x1="307.20" y1="354.20" x2="310.40" y2="354.20" stroke="#000" stroke-width="1.1"/>
<text x="306.80" y="355.80" font-size="7.5" text-anchor="end" fill="#1e1e1e">11,000</text>
<line x1="307.20" y1="338.10" x2="310.40" y2="338.10" stroke="#000" stroke-width="1.1"/>
<text x="306.80" y="339.70" font-size="7.5" text-anchor="end" fill="#1e1e1e">12,000</text>
<line x1="307.20" y1="452.80" x2="310.40" y2="452.80" stroke="#000" stroke-width="1.1"/>
<text x="306.80" y="454.60" font-size="7.5" text-anchor="end" fill="#1e1e1e">0</text>
<line x1="307.20" y1="437.80" x2="310.40" y2="437.80" stroke="#000" stroke-width="1.1"/>
<text x="306.80" y="439.60" font-size="7.5" text-anchor="end" fill="#1e1e1e">1,000</text>
<line x1="307.20" y1="422.80" x2="310.40" y2="422.80" stroke="#000" stroke-width="1.1"/>
<text x="306.80" y="424.60" font-size="7.5" text-anchor="end" fill="#1e1e1e">2,000</text>
<line x1="307.20" y1="407.80" x2="310.40" y2="407.80" stroke="#000" stroke-width="1.1"/>
<text x="306.80" y="409.60" font-size="7.5" text-anchor="end" fill="#1e1e1e">3,000</text>
<line x1="307.20" y1="392.80" x2="310.40" y2="392.80" stroke="#000" stroke-width="1.1"/>
<text x="306.80" y="394.60" font-size="7.5" text-anchor="end" fill="#1e1e1e">4,000</text>
<line x1="307.20" y1="377.80" x2="310.40" y2="377.80" stroke="#000" stroke-width="1.1"/>
<text x="306.80" y="379.60" font-size="7.5" text-anchor="end" fill="#1e1e1e">5,000</text>
<rect x="314.20" y="356.41" width="6.30" height="14.39" fill="#000"/>
<rect x="314.20" y="375.30" width="6.30" height="77.50" fill="#000"/>
<line x1="317.35" y1="351.99" x2="317.35" y2="356.41" stroke="#000" stroke-width="1"/>
<line x1="315.35" y1="351.99" x2="319.35" y2="351.99" stroke="#000" stroke-width="1"/>
<rect x="323.35" y="448.81" width="5.20" height="4.00" fill="#fff" stroke="#000" stroke-width="1.1"/>
<line x1="324.15" y1="448.31" x2="327.75" y2="448.31" stroke="#000" stroke-width="1"/>
<line x1="321.60" y1="452.80" x2="321.60" y2="455.40" stroke="#000" stroke-width="1"/>
<text x="322.20" y="463.40" font-size="6.7" text-anchor="middle" fill="#1e1e1e">2591</text>
<text x="322.20" y="476.40" font-size="7.9" text-anchor="middle" fill="#1e1e1e" font-style="italic">0701</text>
<rect x="337.65" y="395.00" width="6.30" height="57.81" fill="#000"/>
<line x1="338.80" y1="394.69" x2="342.80" y2="394.69" stroke="#000" stroke-width="1"/>
<rect x="346.80" y="448.40" width="5.20" height="4.40" fill="#fff" stroke="#000" stroke-width="1.1"/>
<line x1="347.60" y1="447.90" x2="351.20" y2="447.90" stroke="#000" stroke-width="1"/>
<line x1="345.05" y1="452.80" x2="345.05" y2="455.40" stroke="#000" stroke-width="1"/>
<text x="345.65" y="463.40" font-size="6.7" text-anchor="middle" fill="#1e1e1e">397</text>
<text x="345.65" y="476.40" font-size="7.9" text-anchor="middle" fill="#1e1e1e" font-style="italic">0701</text>
<rect x="361.10" y="412.91" width="6.30" height="39.89" fill="#000"/>
<line x1="362.25" y1="412.61" x2="366.25" y2="412.61" stroke="#000" stroke-width="1"/>
<rect x="370.25" y="446.50" width="5.20" height="6.31" fill="#fff" stroke="#000" stroke-width="1.1"/>
<line x1="371.05" y1="446.00" x2="374.65" y2="446.00" stroke="#000" stroke-width="1"/>
<line x1="368.50" y1="452.80" x2="368.50" y2="455.40" stroke="#000" stroke-width="1"/>
<text x="369.10" y="463.40" font-size="6.7" text-anchor="middle" fill="#1e1e1e">586</text>
<text x="369.10" y="476.40" font-size="7.9" text-anchor="middle" fill="#1e1e1e" font-style="italic">0701</text>
<rect x="384.55" y="443.70" width="6.30" height="9.10" fill="#000"/>
<line x1="385.70" y1="443.40" x2="389.70" y2="443.40" stroke="#000" stroke-width="1"/>
<rect x="393.70" y="444.20" width="5.20" height="8.60" fill="#fff" stroke="#000" stroke-width="1.1"/>
<line x1="394.50" y1="443.70" x2="398.10" y2="443.70" stroke="#000" stroke-width="1"/>
<line x1="391.95" y1="452.80" x2="391.95" y2="455.40" stroke="#000" stroke-width="1"/>
<text x="392.55" y="463.40" font-size="6.7" text-anchor="middle" fill="#1e1e1e">624</text>
<text x="392.55" y="476.40" font-size="7.9" text-anchor="middle" fill="#1e1e1e" font-style="italic">0702</text>
<rect x="408.00" y="445.20" width="6.30" height="7.60" fill="#000"/>
<line x1="409.15" y1="444.90" x2="413.15" y2="444.90" stroke="#000" stroke-width="1"/>
<rect x="417.15" y="446.50" width="5.20" height="6.31" fill="#fff" stroke="#000" stroke-width="1.1"/>
<line x1="417.95" y1="446.00" x2="421.55" y2="446.00" stroke="#000" stroke-width="1"/>
<line x1="415.40" y1="452.80" x2="415.40" y2="455.40" stroke="#000" stroke-width="1"/>
<text x="416.00" y="463.40" font-size="6.7" text-anchor="middle" fill="#1e1e1e">1300</text>
<text x="416.00" y="476.40" font-size="7.9" text-anchor="middle" fill="#1e1e1e" font-style="italic">0702</text>
<rect x="431.45" y="421.35" width="6.30" height="31.45" fill="#000"/>
<line x1="434.60" y1="417.10" x2="434.60" y2="420.85" stroke="#000" stroke-width="1"/>
<line x1="432.60" y1="417.10" x2="436.60" y2="417.10" stroke="#000" stroke-width="1"/>
<rect x="440.60" y="441.69" width="5.20" height="11.11" fill="#fff" stroke="#000" stroke-width="1.1"/>
<line x1="441.40" y1="441.19" x2="445.00" y2="441.19" stroke="#000" stroke-width="1"/>
<line x1="438.85" y1="452.80" x2="438.85" y2="455.40" stroke="#000" stroke-width="1"/>
<text x="439.45" y="463.40" font-size="6.7" text-anchor="middle" fill="#1e1e1e">1359</text>
<text x="439.45" y="476.40" font-size="7.9" text-anchor="middle" fill="#1e1e1e" font-style="italic">0701</text>
<rect x="454.90" y="416.89" width="6.30" height="35.91" fill="#000"/>
<line x1="458.05" y1="415.72" x2="458.05" y2="416.39" stroke="#000" stroke-width="1"/>
<line x1="456.05" y1="415.72" x2="460.05" y2="415.72" stroke="#000" stroke-width="1"/>
<rect x="464.05" y="449.11" width="5.20" height="3.69" fill="#fff" stroke="#000" stroke-width="1.1"/>
<line x1="464.85" y1="448.61" x2="468.45" y2="448.61" stroke="#000" stroke-width="1"/>
<line x1="462.30" y1="452.80" x2="462.30" y2="455.40" stroke="#000" stroke-width="1"/>
<text x="462.90" y="463.40" font-size="6.7" text-anchor="middle" fill="#1e1e1e">2359</text>
<text x="462.90" y="476.40" font-size="7.9" text-anchor="middle" fill="#1e1e1e" font-style="italic">0701</text>
<rect x="478.35" y="447.11" width="6.30" height="5.69" fill="#000"/>
<line x1="481.50" y1="443.40" x2="481.50" y2="446.61" stroke="#000" stroke-width="1"/>
<line x1="479.50" y1="443.40" x2="483.50" y2="443.40" stroke="#000" stroke-width="1"/>
<rect x="487.50" y="447.31" width="5.20" height="5.50" fill="#fff" stroke="#000" stroke-width="1.1"/>
<line x1="488.30" y1="446.81" x2="491.90" y2="446.81" stroke="#000" stroke-width="1"/>
<line x1="485.75" y1="452.80" x2="485.75" y2="455.40" stroke="#000" stroke-width="1"/>
<text x="491.00" y="463.40" font-size="6.7" text-anchor="middle" fill="#1e1e1e">T cells only</text>
<text x="307.50" y="476.40" font-size="8.1" text-anchor="end" fill="#1e1e1e">HLA-C*:</text>
<text x="281.20" y="399.50" font-size="7.6" text-anchor="middle" fill="#1e1e1e" transform="rotate(-90 281.20 399.50)">IFN-&#947; (pg/mL)</text>
<rect x="446.30" y="338.80" width="9.20" height="5.70" fill="#000"/>
<text x="458.80" y="343.60" font-size="7.45" text-anchor="start" fill="#1e1e1e">SLC24A5 TCR</text>
<rect x="446.80" y="348.60" width="8.40" height="5.00" fill="#fff" stroke="#000" stroke-width="1.0"/>
<text x="458.80" y="353.60" font-size="7.45" text-anchor="start" fill="#1e1e1e">Un-transduced</text>
<rect x="518" y="0" width="1" height="491" fill="#a8a8a8"/>
<rect x="0" y="489" width="520" height="1" fill="#c4c4c4"/>
<rect x="0.5" y="0.5" width="519" height="490" fill="none" stroke="#5a5a5a" stroke-width="1"/>
</svg></div></body></html>
